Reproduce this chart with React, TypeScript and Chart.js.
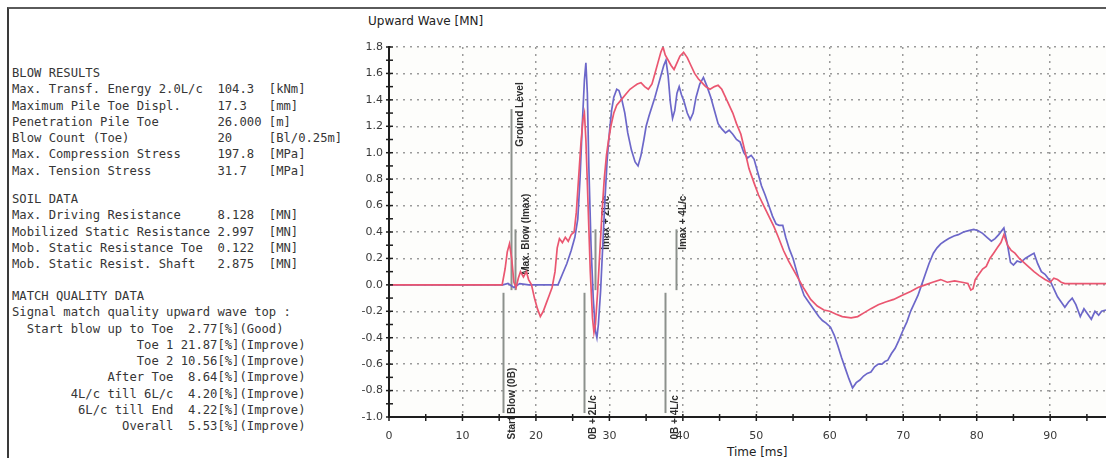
import React, { useEffect, useRef } from "react";
import { Chart, registerables } from "chart.js";

Chart.register(...registerables);

// ---------- DATA ----------
const computedTimes = [
  0, 15.4, 15.8, 16.1, 16.4, 16.7, 17.0, 17.3, 17.6, 17.9, 18.3, 18.7, 19.0, 19.4, 19.8, 20.2, 20.6, 21.0,
  21.4, 21.8, 22.2, 22.6, 22.9, 23.2, 23.6, 24.0, 24.4, 24.8, 25.2, 25.5, 25.8, 26.1, 26.4, 26.6, 26.8,
  27.1, 27.4, 27.7, 27.9, 28.1, 28.4, 28.7, 29.0, 29.3, 29.6, 29.9, 30.2, 30.6, 31.0, 31.6, 32.2, 32.8,
  33.3, 33.8, 34.3, 34.8, 35.3, 35.8, 36.2, 36.6, 37.0, 37.3, 37.6, 38.0, 38.4, 38.8, 39.2, 39.6, 40.1,
  40.6, 41.1, 41.6, 42.1, 42.6, 43.1, 43.7, 44.3, 44.8, 45.3, 45.8, 46.3, 46.8, 47.3, 47.9, 48.5, 49.0,
  49.7, 50.3, 51.0, 51.7, 52.4, 53.0, 53.7, 54.4, 55.1, 55.8, 56.5, 57.4, 58.3, 59.2, 60.0, 60.8, 61.7,
  62.9, 63.8, 64.7, 65.6, 66.6, 67.6, 68.7, 69.8, 71.0, 72.0, 73.0, 74.0, 75.1, 76.0, 77.0, 78.0, 78.8,
  79.2, 79.5, 79.8, 80.3, 80.8, 81.3, 81.8, 82.3, 82.8, 83.3, 83.7, 84.2, 84.7, 85.2, 85.8, 86.4, 87.0,
  87.8, 88.5, 89.3, 90.0, 90.5, 91.0, 91.5, 92.0, 97.6,
];
const computedValues = [
  0, 0, 0.12, 0.25, 0.31, 0.2, 0.02, -0.02, 0.05, 0.1, 0.06, 0.1, 0.04, 0.0, -0.1, -0.18, -0.24, -0.2,
  -0.14, -0.08, -0.02, 0.1, 0.28, 0.35, 0.32, 0.36, 0.33, 0.38, 0.4, 0.55, 0.8, 1.05, 1.25, 1.3, 1.1,
  0.6, 0.1, -0.25, -0.36, -0.3, -0.05, 0.25, 0.55, 0.8, 0.98, 1.1, 1.2, 1.3, 1.36, 1.4, 1.44, 1.48,
  1.5, 1.52, 1.53, 1.5, 1.48, 1.52, 1.6, 1.68, 1.76, 1.8, 1.74, 1.7, 1.66, 1.63, 1.68, 1.73, 1.76,
  1.72, 1.66, 1.6, 1.56, 1.53, 1.5, 1.48, 1.5, 1.51, 1.48, 1.42, 1.36, 1.3, 1.22, 1.14, 1.0, 0.88,
  0.77, 0.68, 0.6, 0.52, 0.44, 0.36, 0.26, 0.18, 0.11, 0.04, -0.03, -0.11, -0.16, -0.19, -0.2, -0.22, -0.24,
  -0.25, -0.24, -0.21, -0.18, -0.15, -0.13, -0.11, -0.08, -0.05, -0.02, 0.0, 0.02, 0.04, 0.02, 0.03, 0.02, 0.01,
  -0.04, -0.03, 0.04, 0.08, 0.12, 0.14, 0.2, 0.24, 0.28, 0.32, 0.38, 0.3, 0.26, 0.24, 0.2, 0.17, 0.14,
  0.1, 0.07, 0.04, 0.02, 0.05, 0.04, 0.02, 0.01, 0.01,
];

const measuredTimes = [
  0, 15.5, 16.2, 17.0, 17.8, 19.0, 20.0, 22.0, 23.0, 23.6, 24.2, 24.8, 25.3, 25.7, 26.0, 26.3, 26.6, 26.8,
  27.0, 27.2, 27.5, 27.8, 28.1, 28.3, 28.5, 28.8, 29.1, 29.4, 29.7, 30.0, 30.3, 30.6, 31.0, 31.3, 31.7,
  32.1, 32.5, 33.0, 33.5, 33.9, 34.3, 34.7, 35.0, 35.4, 35.8, 36.2, 36.6, 37.0, 37.4, 37.7, 38.0, 38.3,
  38.6, 38.9, 39.2, 39.5, 39.8, 40.2, 40.6, 41.0, 41.4, 41.8, 42.3, 42.8, 43.3, 43.8, 44.3, 44.8, 45.3,
  45.8, 46.3, 46.8, 47.3, 47.8, 48.3, 48.8, 49.3, 49.7, 50.2, 50.7, 51.2, 51.7, 52.2, 52.7, 53.1, 53.6,
  54.0, 54.5, 55.0, 55.5, 56.0, 56.5, 57.0, 57.5, 58.0, 58.5, 59.0, 59.5, 60.1, 60.6, 61.1, 61.6, 62.1,
  62.6, 63.1, 63.6, 64.1, 64.6, 65.1, 65.6, 66.1, 66.6, 67.1, 67.5, 67.9, 68.4, 68.9, 69.4, 70.0, 70.5,
  71.0, 71.5, 72.0, 72.5, 73.0, 73.5, 74.1, 74.6, 75.1, 75.6, 76.2, 76.9, 77.5, 78.2, 78.9, 79.6, 80.2,
  80.8, 81.4, 82.0, 82.5, 83.0, 83.7, 84.2, 84.6, 85.0, 85.5, 86.0, 86.6, 87.2, 87.8, 88.3, 88.8, 89.3,
  90.0, 90.5, 91.0, 91.5, 92.0, 92.5, 93.0, 93.5, 94.1, 94.6, 95.1, 95.6, 96.1, 96.6, 97.0, 97.6,
];
const measuredValues = [
  0, 0, 0.01, -0.02, 0.01, 0, 0, 0, 0.0, 0.08, 0.16, 0.26, 0.36, 0.5, 0.8, 1.2, 1.55, 1.68,
  1.45, 0.9, 0.3, -0.1, -0.35, -0.4, -0.3, -0.05, 0.3, 0.65, 0.95, 1.15, 1.32, 1.42, 1.48, 1.47, 1.4,
  1.3, 1.15, 1.02, 0.93, 0.9, 0.98, 1.1, 1.2, 1.28, 1.35, 1.42, 1.5, 1.58, 1.66, 1.7, 1.58, 1.38,
  1.26, 1.32, 1.45, 1.5, 1.44, 1.38, 1.3, 1.25, 1.3, 1.42, 1.52, 1.57, 1.5, 1.42, 1.32, 1.22, 1.18,
  1.15, 1.17, 1.14, 1.1, 1.08, 1.0, 0.96, 0.98, 0.95, 0.85, 0.75, 0.68, 0.6, 0.52, 0.46, 0.45, 0.45,
  0.36, 0.27, 0.2, 0.1, 0.0, -0.08, -0.12, -0.16, -0.2, -0.24, -0.27, -0.29, -0.32, -0.38, -0.46, -0.55, -0.63,
  -0.71, -0.78, -0.74, -0.72, -0.69, -0.67, -0.66, -0.62, -0.6, -0.6, -0.58, -0.57, -0.52, -0.48, -0.42, -0.34, -0.28,
  -0.2, -0.14, -0.08, 0.0, 0.08, 0.16, 0.24, 0.28, 0.31, 0.33, 0.35, 0.37, 0.38, 0.4, 0.41, 0.42, 0.41,
  0.39, 0.36, 0.33, 0.35, 0.38, 0.43, 0.3, 0.17, 0.15, 0.18, 0.17, 0.2, 0.22, 0.24, 0.16, 0.1, 0.08,
  0.03, -0.03, -0.09, -0.13, -0.17, -0.13, -0.1, -0.15, -0.24, -0.18, -0.22, -0.26, -0.2, -0.23, -0.2, -0.19,
];

const markerLabels = [
  "Start Blow (0B)",
  "Ground Level",
  "Max. Blow (Imax)",
  "0B + 2L/c",
  "Imax + 2L/c",
  "0B + 4L/c",
  "Imax + 4L/c",
];
const markerTimes = [15.5, 16.6, 17.2, 26.6, 28.0, 37.6, 39.1];
const markerTops = [-0.06, 1.33, 0.42, -0.06, 0.42, -0.06, 0.42];
const markerBottoms = [-0.97, -0.04, -0.04, -0.97, -0.04, -0.97, -0.04];
// where the rotated label text starts (value units) and its horizontal offset (px)
const markerLabelStart = [-1.17, 1.045, 0.076, -1.17, 0.265, -1.17, 0.265];
const markerLabelOffset = [9, 9, 11, 9, 12, 10, 7];

const X_MIN = 0;
const X_MAX = 97.6;
const Y_MIN = -1.0;
const Y_MAX = 1.8;

const blowResults = [
  "BLOW RESULTS",
  "Max. Transf. Energy 2.0L/c  104.3  [kNm]",
  "Maximum Pile Toe Displ.     17.3   [mm]",
  "Penetration Pile Toe        26.000 [m]",
  "Blow Count (Toe)            20     [Bl/0.25m]",
  "Max. Compression Stress     197.8  [MPa]",
  "Max. Tension Stress         31.7   [MPa]",
];
const soilData = [
  "SOIL DATA",
  "Max. Driving Resistance     8.128  [MN]",
  "Mobilized Static Resistance 2.997  [MN]",
  "Mob. Static Resistance Toe  0.122  [MN]",
  "Mob. Static Resist. Shaft   2.875  [MN]",
];
const matchQuality = [
  "MATCH QUALITY DATA",
  "Signal match quality upward wave top :",
  "  Start blow up to Toe  2.77[%](Good)",
  "                 Toe 1 21.87[%](Improve)",
  "                 Toe 2 10.56[%](Improve)",
  "             After Toe  8.64[%](Improve)",
  "        4L/c till 6L/c  4.20[%](Improve)",
  "         6L/c till End  4.22[%](Improve)",
  "               Overall  5.53[%](Improve)",
];

// ---------- PLUGIN ----------
const overlayPlugin = {
  id: "overlay",
  beforeDraw(chart: any) {
    const { ctx, chartArea } = chart;
    ctx.save();
    ctx.fillStyle = "#fdfdfb";
    ctx.fillRect(chartArea.left, chartArea.top, chartArea.right - chartArea.left, chartArea.bottom - chartArea.top);
    ctx.restore();
  },
  beforeDatasetsDraw(chart: any) {
    const { ctx } = chart;
    const xs = chart.scales.x;
    const ys = chart.scales.y;
    ctx.save();
    ctx.strokeStyle = "#8c918c";
    ctx.lineWidth = 2;
    for (let i = 0; i < markerTimes.length; i++) {
      const px = Math.round(xs.getPixelForValue(markerTimes[i])) + 0.5;
      ctx.beginPath();
      ctx.moveTo(px, ys.getPixelForValue(markerTops[i]));
      ctx.lineTo(px, ys.getPixelForValue(markerBottoms[i]));
      ctx.stroke();
    }
    ctx.fillStyle = "#2e2e2e";
    ctx.font = "bold 10px 'Liberation Sans', Arial, sans-serif";
    ctx.textAlign = "left";
    ctx.textBaseline = "middle";
    for (let i = 0; i < markerLabels.length; i++) {
      const px = xs.getPixelForValue(markerTimes[i]) + markerLabelOffset[i];
      const py = ys.getPixelForValue(markerLabelStart[i]);
      ctx.save();
      ctx.translate(px, py);
      ctx.rotate(-Math.PI / 2);
      ctx.fillText(markerLabels[i], 0, 0);
      ctx.restore();
    }
    ctx.restore();
  },
  afterDatasetsDraw(chart: any) {
    const { ctx, chartArea } = chart;
    const xs = chart.scales.x;
    const ys = chart.scales.y;
    ctx.save();
    ctx.strokeStyle = "#1e1e1e";
    ctx.lineWidth = 2;
    const ax = xs.getPixelForValue(X_MIN);
    const ay = ys.getPixelForValue(Y_MIN);
    ctx.beginPath();
    ctx.moveTo(ax, ys.getPixelForValue(Y_MAX) - 1);
    ctx.lineTo(ax, ay);
    ctx.lineTo(chartArea.right, ay);
    ctx.stroke();
    ctx.lineWidth = 1.5;
    // y minor/major ticks every 0.1
    for (let k = 0; k <= 28; k++) {
      const v = Y_MIN + k * 0.1;
      const py = ys.getPixelForValue(v);
      ctx.beginPath();
      ctx.moveTo(ax - 3, py);
      ctx.lineTo(ax + 4, py);
      ctx.stroke();
    }
    // x ticks every 5
    for (let k = 0; k <= 19; k++) {
      const v = k * 5;
      const px = xs.getPixelForValue(v);
      ctx.beginPath();
      ctx.moveTo(px, ay - 3);
      ctx.lineTo(px, ay + 4);
      ctx.stroke();
    }
    ctx.restore();
  },
};

export default function App() {
  const canvasRef = useRef<HTMLCanvasElement | null>(null);

  useEffect(() => {
    if (!canvasRef.current) return;
    const chart = new Chart(canvasRef.current, {
      type: "line",
      data: {
        datasets: [
          {
            label: "Computed",
            data: computedTimes.map((t, i) => ({ x: t, y: computedValues[i] })),
            borderColor: "#ea5670",
            borderWidth: 1.7,
            pointRadius: 0,
            tension: 0,
            fill: false,
          },
          {
            label: "Measured",
            data: measuredTimes.map((t, i) => ({ x: t, y: measuredValues[i] })),
            borderColor: "#6c67c9",
            borderWidth: 1.7,
            pointRadius: 0,
            tension: 0,
            fill: false,
          },
        ],
      },
      options: {
        responsive: false,
        maintainAspectRatio: false,
        animation: false,
        devicePixelRatio: 1,
        layout: { padding: { top: 47, left: 0, right: 0, bottom: 0 } },
        plugins: {
          legend: { display: false },
          tooltip: { enabled: false },
        },
        scales: {
          x: {
            type: "linear",
            min: X_MIN,
            max: X_MAX,
            afterBuildTicks: (s: any) => {
              s.ticks = s.ticks.filter((t: any) => Math.abs(t.value / 10 - Math.round(t.value / 10)) < 1e-6);
            },
            afterFit: (s: any) => {
              s.height = 41;
            },
            ticks: {
              stepSize: 10,
              maxRotation: 0,
              autoSkip: false,
              padding: 13,
              color: "#3a3a3a",
              font: { family: "'DejaVu Sans', sans-serif", size: 11 },
            },
            grid: { color: "#9b9b9b", lineWidth: 1.5, drawTicks: false },
            border: { display: false, dash: [2, 5] },
          },
          y: {
            type: "linear",
            min: Y_MIN,
            max: Y_MAX,
            afterFit: (s: any) => {
              s.width = 49;
            },
            ticks: {
              stepSize: 0.2,
              padding: 6,
              color: "#3a3a3a",
              font: { family: "'DejaVu Sans', sans-serif", size: 11 },
              callback: (v: any) => (Math.abs(Number(v)) < 1e-9 ? "0.0" : Number(v).toFixed(1)),
            },
            grid: { color: "#9b9b9b", lineWidth: 1.5, drawTicks: false },
            border: { display: false, dash: [2, 5] },
          },
        },
      },
      plugins: [overlayPlugin],
    } as any);
    return () => chart.destroy();
  }, []);

  const mono: React.CSSProperties = {
    position: "absolute",
    left: 12,
    margin: 0,
    fontFamily: "'DejaVu Sans Mono', monospace",
    fontSize: 12.2,
    lineHeight: "16.3px",
    color: "#363636",
    whiteSpace: "pre",
  };

  return (
    <div
      style={{
        position: "fixed",
        left: 0,
        top: 0,
        width: 1106,
        height: 458,
        overflow: "hidden",
        background: "#ffffff",
      }}
    >
      <div
        style={{
          position: "absolute",
          left: 7,
          top: 7,
          right: 0,
          bottom: 0,
          borderTop: "2px solid #5a5a5a",
          borderLeft: "2px solid #3a3a3a",
        }}
      />
      <pre style={{ ...mono, top: 65 }}>{blowResults.join("\n")}</pre>
      <pre style={{ ...mono, top: 191 }}>{soilData.join("\n")}</pre>
      <pre style={{ ...mono, top: 288 }}>{matchQuality.join("\n")}</pre>
      <div
        style={{
          position: "absolute",
          left: 368,
          top: 14,
          fontFamily: "'DejaVu Sans', sans-serif",
          fontSize: 12,
          color: "#222",
          whiteSpace: "nowrap",
        }}
      >
        Upward Wave [MN]
      </div>
      <div
        style={{
          position: "absolute",
          left: 727,
          top: 445,
          fontFamily: "'DejaVu Sans', sans-serif",
          fontSize: 12,
          color: "#222",
          whiteSpace: "nowrap",
        }}
      >
        Time [ms]
      </div>
      <canvas
        ref={canvasRef}
        width={766}
        height={458}
        style={{ position: "absolute", left: 340, top: 0, width: 766, height: 458 }}
      />
    </div>
  );
}
